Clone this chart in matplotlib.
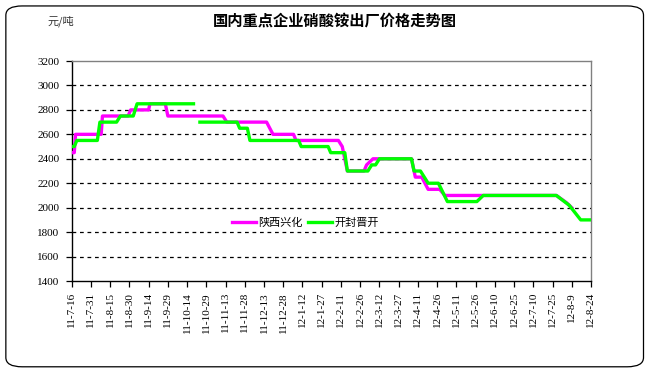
import pandas as pd
import matplotlib
matplotlib.use('Agg')
import matplotlib.pyplot as plt
from matplotlib.patches import FancyBboxPatch

plt.rcParams['font.family'] = ['Noto Sans CJK SC', 'DejaVu Sans']

# 陕西兴化 price (yuan/ton)
xh_dates = ['2011-07-16', '2011-07-18', '2011-07-19', '2011-08-08', '2011-08-09',
            '2011-08-29', '2011-08-31', '2011-09-14', '2011-09-15', '2011-09-27',
            '2011-09-29', '2011-11-11', '2011-11-14', '2011-12-15', '2011-12-20',
            '2012-01-05', '2012-01-07', '2012-02-09', '2012-02-12', '2012-02-16',
            '2012-02-29', '2012-03-02', '2012-03-07', '2012-04-06', '2012-04-09',
            '2012-04-14', '2012-04-19', '2012-04-28', '2012-05-02', '2012-07-28',
            '2012-08-05', '2012-08-09']
xh_values = [2450, 2450, 2600, 2600, 2750,
             2750, 2800, 2800, 2850, 2850,
             2750, 2750, 2700, 2700, 2600,
             2600, 2550, 2550, 2500, 2300,
             2300, 2350, 2400, 2400, 2250,
             2250, 2150, 2150, 2100, 2100,
             2040, 2000]

# 开封晋开 price, None = no quote
jk_dates = ['2011-07-16', '2011-07-18', '2011-07-20', '2011-08-05', '2011-08-07',
            '2011-08-20', '2011-08-23', '2011-09-02', '2011-09-05', '2011-10-19',
            '2011-10-21', '2011-10-24', '2011-11-22', '2011-11-24', '2011-11-30',
            '2011-12-02', '2012-01-09', '2012-01-11', '2012-02-01', '2012-02-03',
            '2012-02-14', '2012-02-16', '2012-03-03', '2012-03-06', '2012-03-09',
            '2012-03-12', '2012-04-06', '2012-04-08', '2012-04-13', '2012-04-19',
            '2012-04-27', '2012-05-04', '2012-05-27', '2012-06-01', '2012-07-28',
            '2012-08-07', '2012-08-16', '2012-08-24']
jk_values = [2500, 2500, 2550, 2550, 2700,
             2700, 2750, 2750, 2850, 2850,
             None, 2700, 2700, 2650, 2650,
             2550, 2550, 2500, 2500, 2450,
             2450, 2300, 2300, 2350, 2350,
             2400, 2400, 2300, 2300, 2200,
             2200, 2050, 2050, 2100, 2100,
             2020, 1900, 1900]

tick_labels = ['11-7-16', '11-7-31', '11-8-15', '11-8-30', '11-9-14', '11-9-29',
               '11-10-14', '11-10-29', '11-11-13', '11-11-28', '11-12-13', '11-12-28',
               '12-1-12', '12-1-27', '12-2-11', '12-2-26', '12-3-12', '12-3-27',
               '12-4-11', '12-4-26', '12-5-11', '12-5-26', '12-6-10', '12-6-25',
               '12-7-10', '12-7-25', '12-8-9', '12-8-24']
yticks = [1400, 1600, 1800, 2000, 2200, 2400, 2600, 2800, 3000, 3200]

xh = pd.Series(xh_values, index=pd.to_datetime(xh_dates), dtype=float)
jk = pd.Series(jk_values, index=pd.to_datetime(jk_dates), dtype=float)
tick_dates = pd.to_datetime(['20' + t for t in tick_labels], format='%Y-%m-%d')

fig = plt.figure(figsize=(6.5, 3.72), dpi=100)
ax = fig.add_axes([0.1103, 0.2446, 0.7989, 0.5914])

# rounded outer frame
frame = FancyBboxPatch((0.009, 0.014), 0.981, 0.97, boxstyle='round,pad=0,rounding_size=0.025',
                       transform=fig.transFigure, fill=False, ec='black', lw=0.9)
fig.patches.append(frame)

for v in yticks[1:-1]:
    ax.axhline(v, color='black', lw=0.9, ls=(0, (3, 3)), zorder=1)

ax.plot(xh.index, xh.values, color='#FF00FF', lw=2.4, label='陕西兴化', zorder=3)
ax.plot(jk.index, jk.values, color='#00FF00', lw=2.4, label='开封晋开', zorder=4)

ax.set_xlim(tick_dates[0], tick_dates[-1])
ax.set_ylim(1400, 3200)
ax.set_yticks(yticks)
ax.set_yticklabels([str(v) for v in yticks], family='Liberation Serif', fontsize=8)
ax.set_xticks(tick_dates)
ax.set_xticklabels(tick_labels, rotation=90, family='Liberation Serif', fontsize=8)
ax.tick_params(axis='both', direction='out', length=4, width=0.9, color='black')
ax.tick_params(axis='y', pad=5)
ax.tick_params(axis='x', pad=4)

for s in ['left', 'bottom']:
    ax.spines[s].set_color('black')
    ax.spines[s].set_linewidth(1.0)
for s in ['top', 'right']:
    ax.spines[s].set_color('#808080')
    ax.spines[s].set_linewidth(1.0)

ax.legend(loc='center', bbox_to_anchor=(0.45, 0.264), ncol=2, frameon=False,
          fontsize=8, handlelength=2.2, handletextpad=0.2, columnspacing=0.4,
          borderaxespad=0)

fig.text(0.515, 0.944, '国内重点企业硝酸铵出厂价格走势图', ha='center', va='center',
         fontsize=11, fontweight='bold')
fig.text(0.094, 0.944, '元/吨', ha='center', va='center', fontsize=8, color='#333333')

fig.savefig('out.png', dpi=100)
